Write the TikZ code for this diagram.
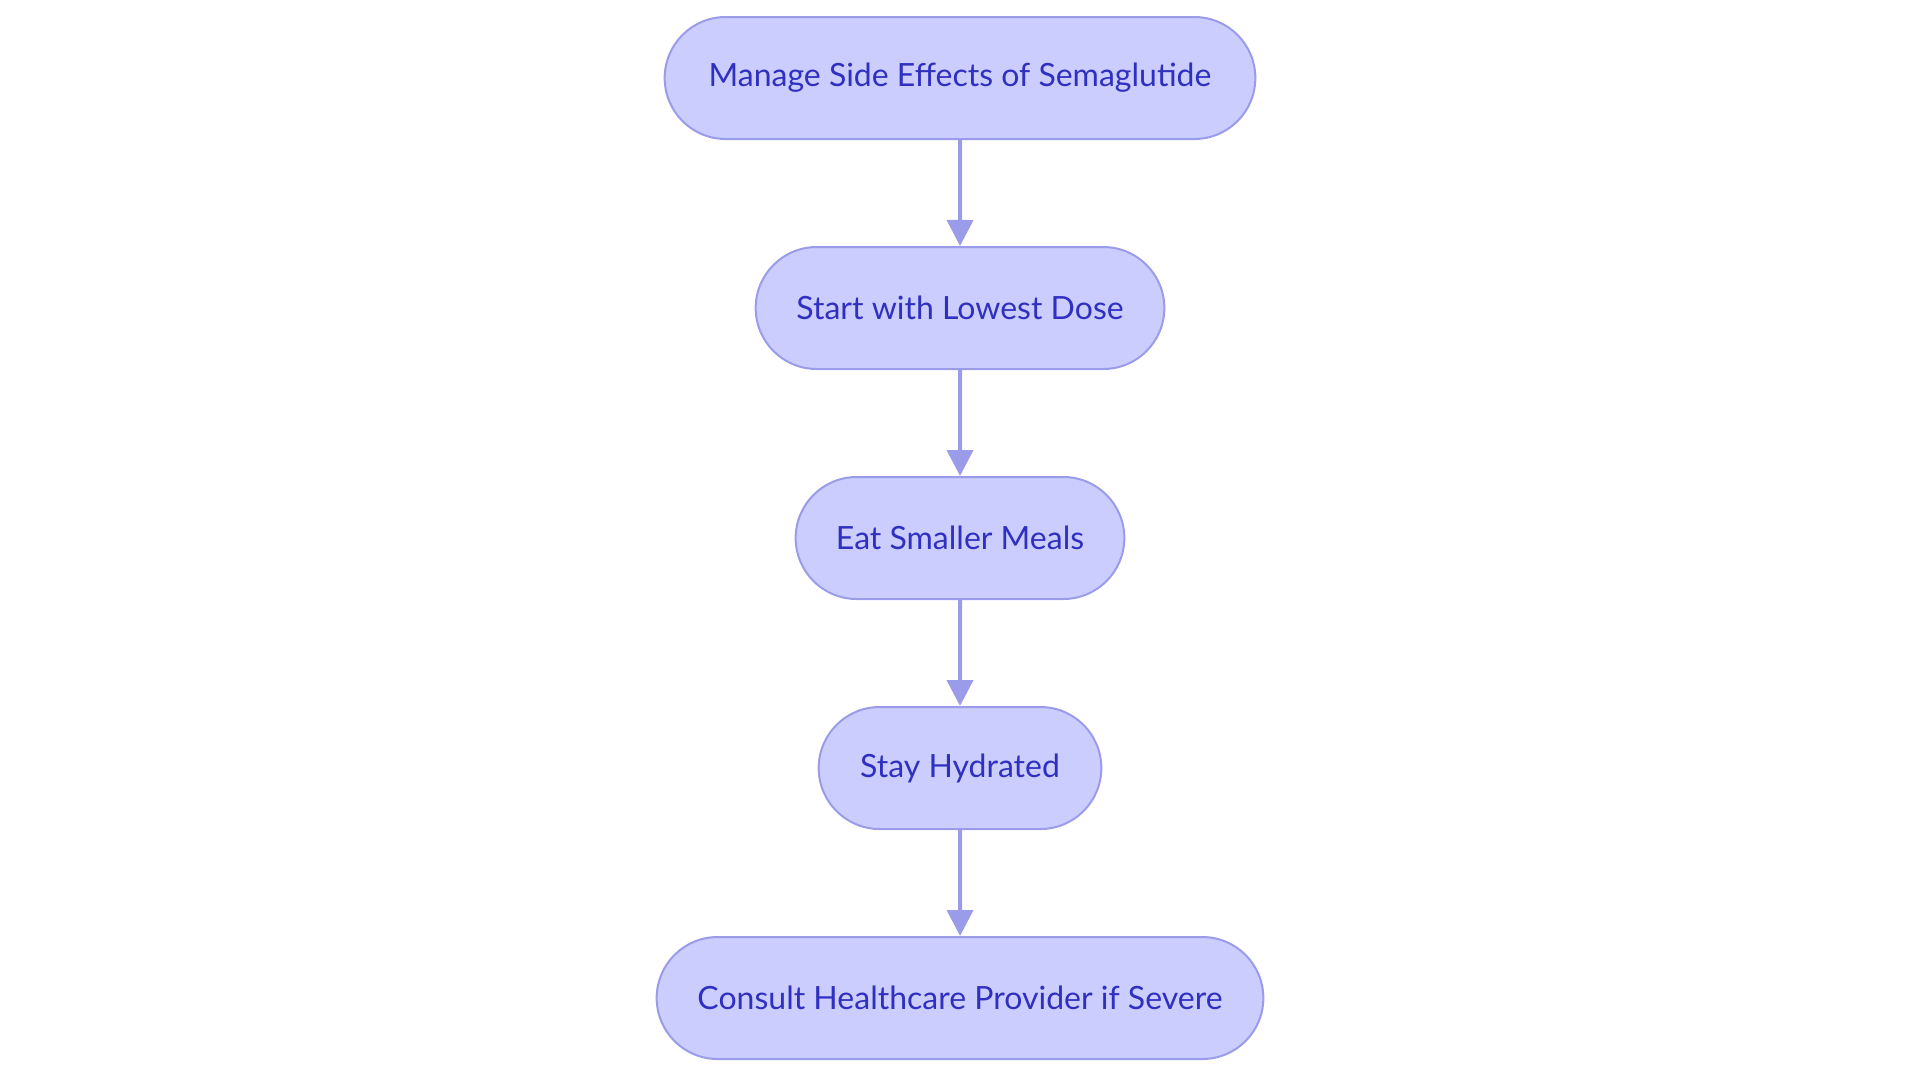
\documentclass[tikz,border=0pt]{standalone}
\usepackage{fontspec}
\setmainfont{Lato}
\usetikzlibrary{arrows.meta,positioning,shapes.misc}
\definecolor{boxfill}{HTML}{CBCDFE}
\definecolor{boxline}{HTML}{9A9CEA}
\definecolor{boxtext}{HTML}{3030C0}
\tikzset{
    flow box/.style={rounded rectangle, draw=boxline, line width=1pt, fill=boxfill, text=boxtext, minimum height=61pt, font=\fontsize{16}{19}\selectfont}, % 流程框
    link/.style={draw=boxline, line width=2pt, -{Triangle[length=13pt, width=13pt]}} % 连线
}
\begin{document}
\begin{tikzpicture}[x=0.5pt, y=-0.5pt, node distance=53pt]
            \useasboundingbox (0,0) rectangle (1920,1083);
            
            \node[flow box, minimum width=302pt] (manage) at (960,78) {Manage Side Effects of Semaglutide};
            \node[flow box, minimum width=211pt, below=of manage] (dose) {Start with Lowest Dose};
            \node[flow box, minimum width=171pt, below=of dose] (meals) {Eat Smaller Meals};
            \node[flow box, minimum width=148pt, below=of meals] (hydrate) {Stay Hydrated};
            \node[flow box, minimum width=310pt, below=of hydrate] (consult) {Consult Healthcare Provider if Severe};
            
            \foreach \a/\b in {manage/dose, dose/meals, meals/hydrate, hydrate/consult} {\draw[link] (\a) -- (\b);}
        \end{tikzpicture}
\end{document}
